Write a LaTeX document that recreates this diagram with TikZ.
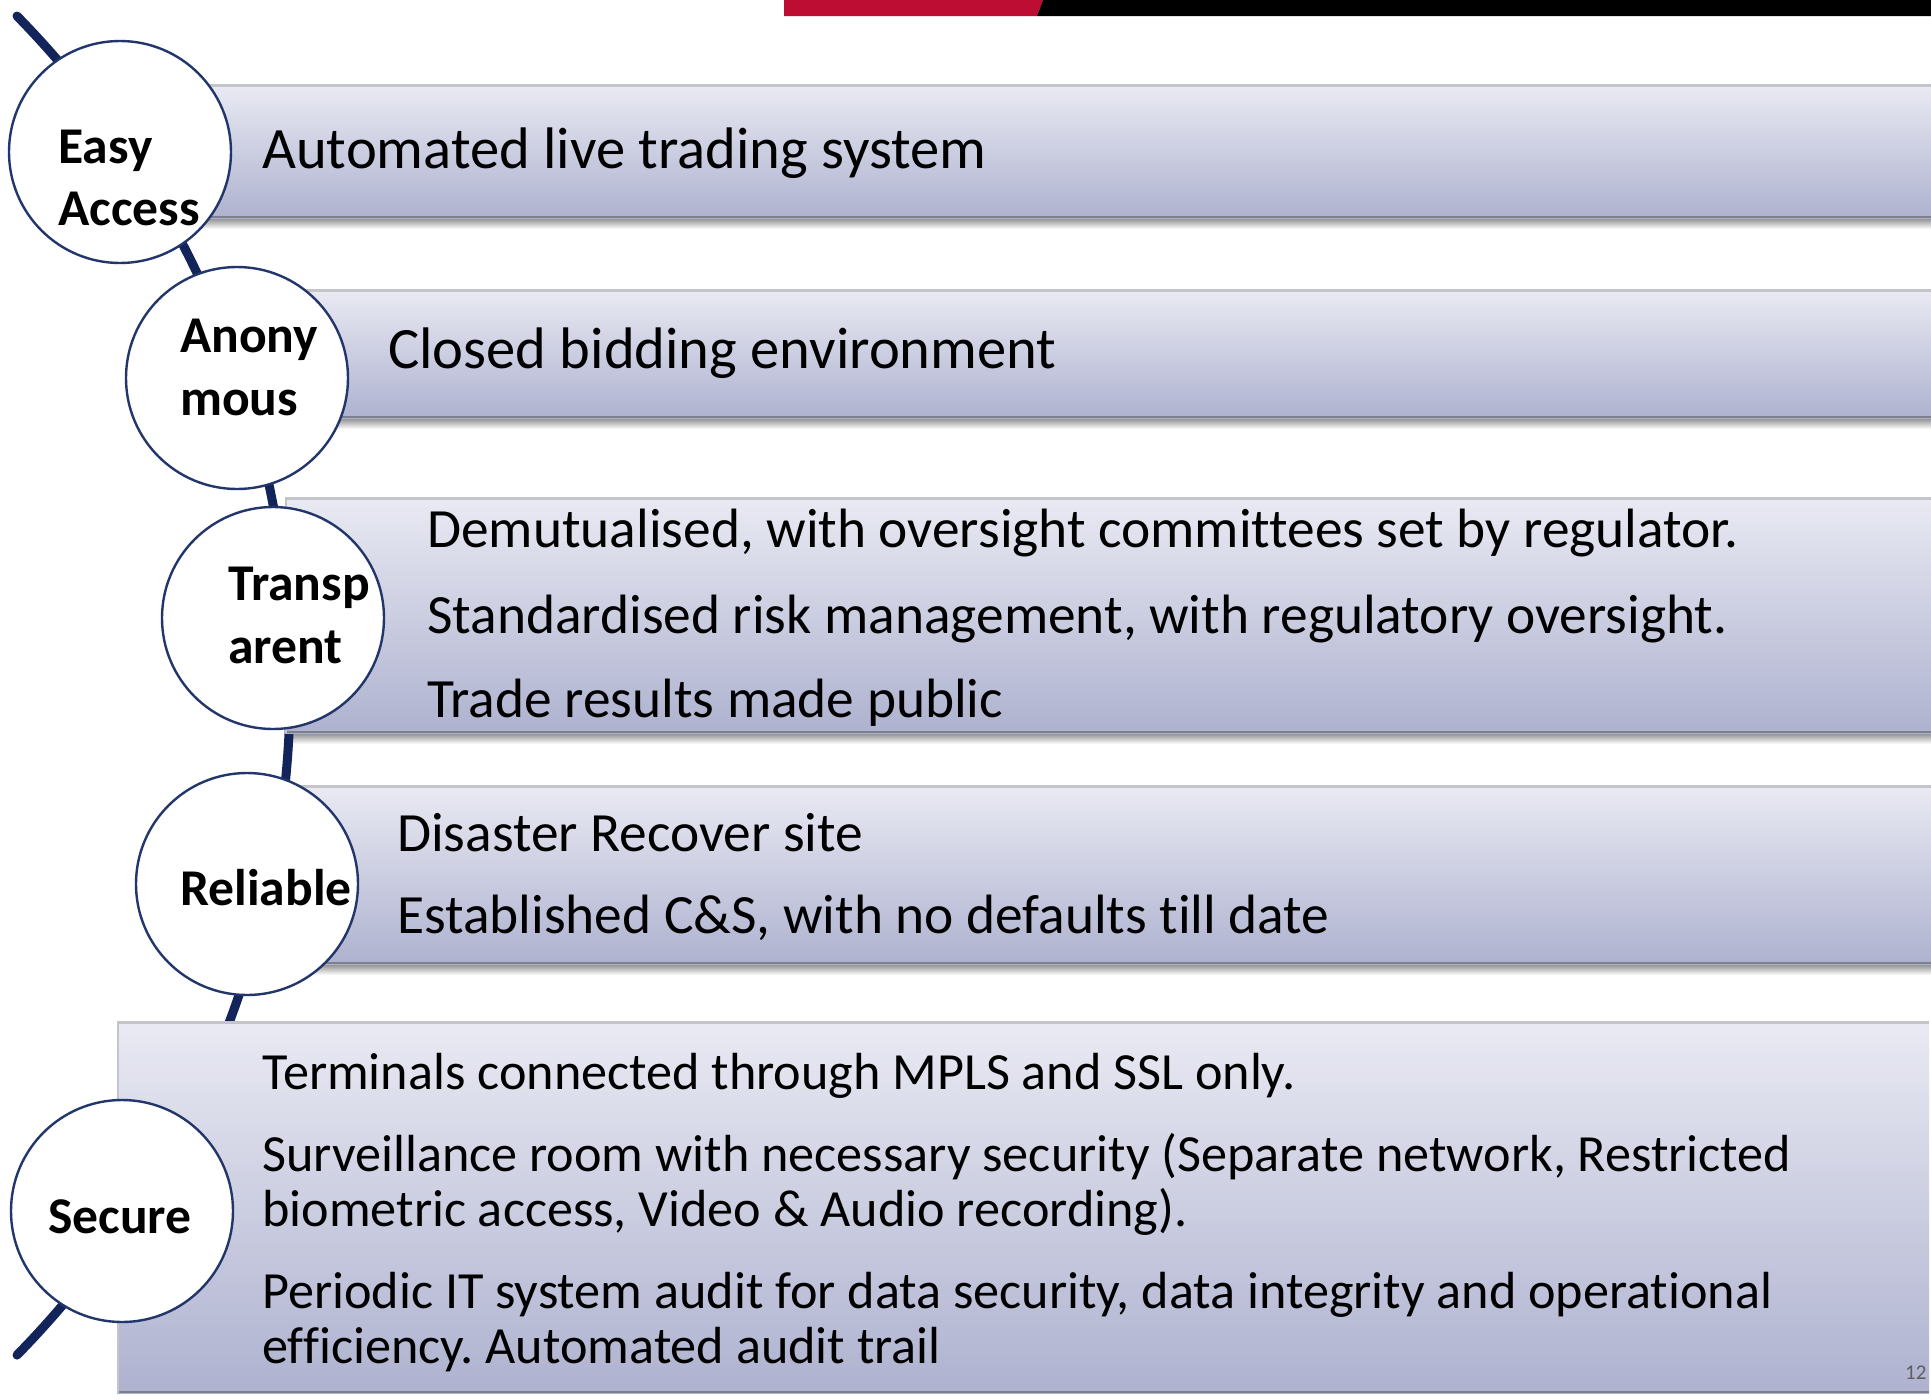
\documentclass[tikz,border=0pt]{standalone}
\usepackage{fontspec}
\setmainfont[Ligatures={NoCommon}]{Carlito}
\frenchspacing
\definecolor{spinecol}{HTML}{12245A}
\definecolor{beadcol}{HTML}{22366B}
\definecolor{bartop}{HTML}{E9EAF3}
\definecolor{barbot}{HTML}{AEB2CF}
\definecolor{edgetop}{HTML}{C4C5CA}
\definecolor{edgebot}{HTML}{7D7F8C}
\definecolor{hdrred}{HTML}{BE0D33}
\definecolor{pagecol}{HTML}{5F5F5F}
% soft shadow under a strip: x1, y1, x2, y2
\newcommand\stripeshadow[4]{%
  \shade[top color=black!45, bottom color=white] (#1,#4) rectangle (#3,#4+11);}
% shaded strip with its light top edge and darker bottom edge
\newcommand\stripebody[4]{%
  \shade[top color=bartop, bottom color=barbot] (#1,#2) rectangle (#3,#4);
  \draw[line width=3pt, draw=edgetop] (#1,#2+1.5) -- (#3,#2+1.5);
  \draw[line width=2.5pt, draw=edgebot] (#1,#4-1.2) -- (#3,#4-1.2);
  \draw[line width=1.5pt, draw=edgetop] (#1+0.75,#2) -- (#1+0.75,#4);}
\begin{document}
\begin{tikzpicture}[x=1pt,y=-1pt,
  spine/.style={draw=spinecol, line width=9pt, line cap=round},
  bead/.style={circle, draw=beadcol, line width=2.4pt, fill=white,
    minimum size=222pt, inner sep=0pt},
  tag/.style={anchor=base west, inner sep=0pt,
    font=\fontsize{51.6}{60}\selectfont\bfseries},
  itemL/.style={anchor=base west, inner sep=0pt,
    font=\fontsize{58.6}{68}\selectfont},
  itemM/.style={anchor=base west, inner sep=0pt,
    font=\fontsize{55.4}{64}\selectfont},
  itemS/.style={anchor=base west, inner sep=0pt,
    font=\fontsize{52.2}{60}\selectfont}]

\fill[white] (0,0) rectangle (1931,1400);
\useasboundingbox (0,0) rectangle (1931,1400);

% header band
\fill[hdrred] (784,0) -- (1043,0) -- (1037,16) -- (784,16) -- cycle;
\fill[black] (1043,0) -- (1931,0) -- (1931,16) -- (1037,16) -- cycle;

% shadows under the strips
\stripeshadow{190}{84}{1931}{218}
\stripeshadow{290}{289}{1931}{418}
\stripeshadow{285}{497}{1931}{733}
\stripeshadow{280}{785}{1931}{964}

% the curved spine behind everything
\coordinate (spinetop) at (17,16);
\draw[spine] (spinetop) arc[start angle=-44.4, end angle=44.4, radius=957];

% strips
\stripebody{190}{84}{1931}{218}
\stripebody{290}{289}{1931}{418}
\stripebody{285}{497}{1931}{733}
\stripebody{280}{785}{1931}{964}
\stripebody{117}{1021}{1929}{1393}

% circles on the spine
\node[bead] (e) at (120,152) {};
\node[bead] (a) at (237,378) {};
\node[bead] (t) at (273,618) {};
\node[bead] (r) at (247,884) {};
\node[bead] (s) at (122,1211) {};

% circle labels
\node[tag] (e1) at (58,163) {Easy};
\node[tag] (e2) at (58,225) {Access};
\node[tag] (a1) at (180,352) {Anony};
\node[tag] (a2) at (180,415) {mous};
\node[tag] (t1) at (228,600) {Transp};
\node[tag] (t2) at (228,663) {arent};
\node[tag] (r1) at (180,905) {Reliable};
\node[tag] (s1) at (48,1233) {Secure};

% strip texts
\node[itemL] (x1) at (262,168) {Automated live trading system};
\node[itemL] (x2) at (388,368) {Closed bidding environment};
\node[itemM] (x3) at (427,547) {Demutualised, with oversight committees set by regulator.};
\node[itemM] (x4) at (427,633) {Standardised risk management, with regulatory oversight.};
\node[itemM] (x5) at (427,717) {Trade results made public};
\node[itemM] (x6) at (397,851) {Disaster Recover site};
\node[itemM] (x7) at (397,933) {Established C\&S, with no defaults till date};
\node[itemS] (x8) at (262,1089) {Terminals connected through MPLS and SSL only.};
\node[itemS] (x9) at (262,1171) {Surveillance room with necessary security (Separate network, Restricted};
\node[itemS] (x10) at (262,1226) {biometric access, Video \& Audio recording).};
\node[itemS] (x11) at (262,1308) {Periodic IT system audit for data security, data integrity and operational};
\node[itemS] (x12) at (262,1363) {efficiency. Automated audit trail};

% page number
\node[anchor=base west, inner sep=0pt, text=pagecol,
  font=\fontsize{21}{24}\selectfont] (pg) at (1905,1379) {12};
\end{tikzpicture}
\end{document}
